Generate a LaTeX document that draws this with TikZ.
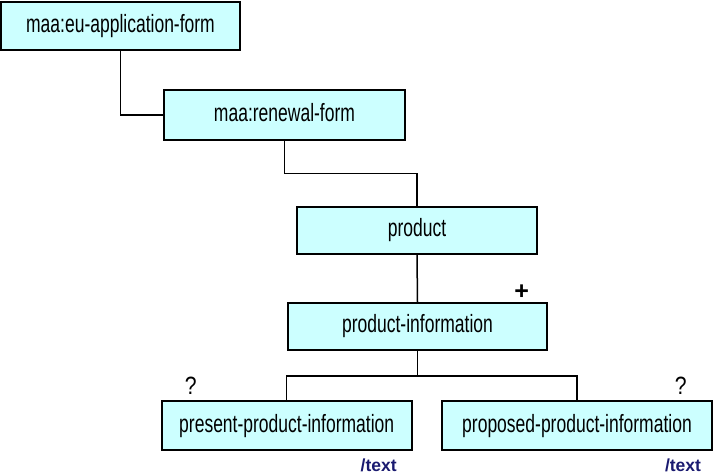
\documentclass[tikz,border=0pt]{standalone}
\usepackage{fontspec}
\setmainfont{Liberation Sans}
\newcommand{\narrowtxt}[1]{\scalebox{0.7}[1]{#1}}
\begin{document}
\begin{tikzpicture}[x=1pt,y=-1pt,
  box/.style={draw=black,line width=1.6pt,fill=boxfill,inner sep=0pt,text height=17pt,text depth=4pt,font=\fontsize{25}{28}\selectfont},
  conn/.style={draw=black,line width=1.5pt},
  cardmark/.style={inner sep=0pt,font=\fontsize{25}{28}\selectfont},
  tlabel/.style={inner sep=0pt,anchor=base,text=navy,font=\fontsize{17.5}{20}\selectfont\bfseries}]
\definecolor{boxfill}{HTML}{CCFFFF}
\definecolor{navy}{HTML}{1A1A70}
\useasboundingbox (0,0) rectangle (713,474);
\node[box,minimum width=239pt,minimum height=48pt] (b1) at (120.5,26) {\narrowtxt{maa:eu-application-form}};
\node[box,minimum width=241pt,minimum height=49.5pt] (b2) at (284.5,115) {\narrowtxt{maa:renewal-form}};
\node[box,minimum width=240pt,minimum height=47.3pt] (b3) at (417,230.4) {\narrowtxt{product}};
\node[box,minimum width=259pt,minimum height=47.3pt] (b4) at (417.5,326.4) {\narrowtxt{product-information}};
\node[box,minimum width=250pt,minimum height=49pt] (b5) at (286.7,425.5) {\narrowtxt{present-product-information}};
\node[box,minimum width=270pt,minimum height=49pt] (b6) at (577,425.5) {\narrowtxt{proposed-product-information}};
\coordinate (j1) at (284.5,173.5);
\coordinate (j2) at (417.5,376);
\draw[conn] (b1.south) |- (b2.west);
\draw[conn] (b2.south) -- (j1) -| (b3.north);
\draw[conn] (b3.south) -- (b4.north);
\draw[conn] (b4.south) -- (j2);
\draw[conn] (j2) -| (b5.north);
\draw[conn] (j2) -| (b6.north);
\node[cardmark] (plus) at (521.7,291.7) {\textbf{+}};
\node[cardmark] (q1) at (190.7,385.5) {\scalebox{0.85}[1]{?}};
\node[cardmark] (q2) at (680.7,385.5) {\scalebox{0.85}[1]{?}};
\node[tlabel] (t1) at (378.7,471) {/text};
\node[tlabel] (t2) at (683,471) {/text};
\end{tikzpicture}
\end{document}
